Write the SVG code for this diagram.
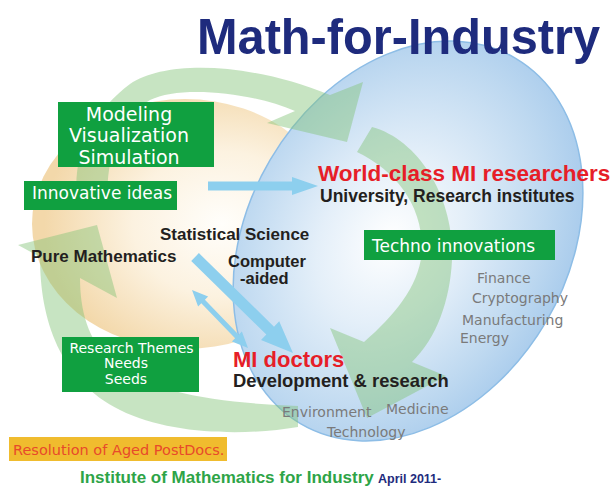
<svg xmlns="http://www.w3.org/2000/svg" width="616" height="487" viewBox="0 0 616 487">
<defs>
<radialGradient id="beige" cx="0.62" cy="0.5" r="0.58">
<stop offset="0" stop-color="#fffefb"/>
<stop offset="0.5" stop-color="#fcf2e0"/>
<stop offset="1" stop-color="#f3d8aa"/>
</radialGradient>
<radialGradient id="blue" cx="0.45" cy="0.52" r="0.6">
<stop offset="0" stop-color="#ffffff"/>
<stop offset="0.35" stop-color="#e4eff9"/>
<stop offset="0.75" stop-color="#bdd8f0"/>
<stop offset="1" stop-color="#a3c8eb"/>
</radialGradient>
<style>
.cyc{fill:rgb(130,195,120);fill-opacity:0.45}
.flow{fill:#8dcfee}
.box{fill:#10a040}
.bt{font-family:"DejaVu Sans",sans-serif;fill:#ffffff}
.lb{font-family:"Liberation Sans",Arial,sans-serif;font-weight:bold;fill:#231f20}
.red{font-family:"Liberation Sans",Arial,sans-serif;font-weight:bold;fill:#e61e28}
.gray{font-family:"DejaVu Sans",sans-serif;font-size:14px;fill:#7a7a7a}
</style>
</defs>
<rect width="616" height="487" fill="#ffffff"/>
<g id="background">
<ellipse cx="185" cy="224" rx="153" ry="125" fill="url(#beige)"/>
<ellipse cx="0" cy="0" rx="160" ry="212" transform="translate(408 241) rotate(30.5)" fill="url(#blue)" stroke="#8dbde6" stroke-width="1.5"/>
</g>
<g id="connectors">
<path class="cyc" d="M77,200 C72,150 95,110 130,84 C165,60 250,62 330,95 L363,82 L347,142 L267,123 L295,111 C250,92 180,85 150,100 C120,118 105,160 108,200 Z"/>
<path class="cyc" d="M298,406 C225,403 150,395 110,360 C88,340 80,310 80,278 L117,298 L97,225 L18,245 L40,257 C40,320 60,380 120,410 C170,435 245,436 298,427 Z"/>
<path class="cyc" d="M357,152 L372,127 C420,140 455,200 452,260 C450,300 437,338 412,362 L446,376 L367,418 L330,328 L364,342 C395,315 420,285 422,250 C423,205 395,170 357,152 Z"/>
<path class="flow" d="M208,181.5 L292,181.5 L292,177 L318,186 L292,195 L292,190.5 L208,190.5 Z"/>
<path class="flow" d="M198.9,253.1 L274,326.7 L279.2,321.3 L293,353 L261,339.9 L266.3,334.5 L191.2,260.9 Z"/>
<path class="flow" d="M192,290 L208.1,296.6 L204.9,299.8 L238.7,334.8 L241.9,331.6 L248,348 L231.9,341.4 L235.1,338.2 L201.3,303.2 L198.1,306.4 Z"/>
</g>
<g id="title">
<text x="197" y="54" font-family="Liberation Sans, Arial, sans-serif" font-weight="bold" font-size="50" fill="#1e2b7d" textLength="403" lengthAdjust="spacingAndGlyphs">Math-for-Industry</text>
</g>
<g id="modeling">
<rect class="box" x="58" y="102" width="156" height="65"/>
<text class="bt" font-size="19" text-anchor="middle" x="129" y="121">Modeling</text>
<text class="bt" font-size="19" text-anchor="middle" x="129" y="142">Visualization</text>
<text class="bt" font-size="19" text-anchor="middle" x="129" y="164">Simulation</text>
</g>
<g id="innovative">
<rect class="box" x="24" y="181" width="153" height="29"/>
<text class="bt" font-size="17" x="32" y="199">Innovative ideas</text>
</g>
<g id="research">
<rect class="box" x="62" y="337" width="137" height="55"/>
<text class="bt" font-size="14" text-anchor="middle" x="131.5" y="353">Research Themes</text>
<text class="bt" font-size="14" text-anchor="middle" x="126" y="368">Needs</text>
<text class="bt" font-size="14" text-anchor="middle" x="126" y="384">Seeds</text>
</g>
<g id="techno">
<rect class="box" x="364" y="230" width="191" height="30"/>
<text class="bt" font-size="17" x="372" y="252">Techno innovations</text>
</g>
<g id="world">
<text class="red" font-size="22.5" x="318" y="181">World-class MI researchers</text>
<text class="lb" font-size="17.5" x="320" y="202">University, Research institutes</text>
</g>
<g id="doctors">
<text class="red" font-size="22" x="233" y="367">MI doctors</text>
<text class="lb" font-size="18.4" x="233" y="387">Development &amp; research</text>
</g>
<g id="methods">
<text class="lb" font-size="17" x="160" y="240">Statistical Science</text>
<text class="lb" font-size="17" x="31" y="262">Pure Mathematics</text>
<text class="lb" font-size="16.5" x="228" y="267">Computer</text>
<text class="lb" font-size="16.5" x="240" y="284">-aided</text>
</g>
<g id="fields">
<text class="gray" x="477" y="283">Finance</text>
<text class="gray" x="472" y="303">Cryptography</text>
<text class="gray" x="462" y="325">Manufacturing</text>
<text class="gray" x="460" y="343">Energy</text>
<text class="gray" x="282" y="417">Environment</text>
<text class="gray" x="386" y="414">Medicine</text>
<text class="gray" x="327" y="437">Technology</text>
</g>
<g id="postdocs">
<rect x="9" y="437" width="218" height="24" fill="#f0bc2e"/>
<text x="13" y="455" font-family="DejaVu Sans, sans-serif" font-size="14.5" fill="#e84a2a">Resolution of Aged PostDocs.</text>
</g>
<g id="footer">
<text x="80" y="483" font-family="Liberation Sans, Arial, sans-serif" font-weight="bold" font-size="17" fill="#2ea447">Institute of Mathematics for Industry</text>
<text x="378" y="483" font-family="Liberation Sans, Arial, sans-serif" font-weight="bold" font-size="12.5" fill="#1e2b7d">April 2011-</text>
</g>
</svg>
